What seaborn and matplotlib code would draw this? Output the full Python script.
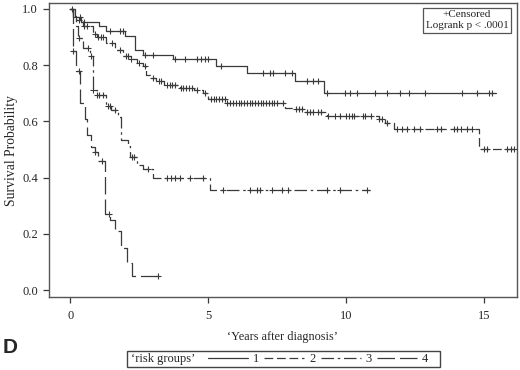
import numpy as np
import matplotlib
matplotlib.use("Agg")
import matplotlib.pyplot as plt
from matplotlib.lines import Line2D
from matplotlib.patches import Rectangle
import seaborn as sns

# ---- data (Kaplan-Meier steps + censor times) ----
t1 = [0, 0.15, 0.4, 1.05, 1.3, 1.97, 2.34, 2.64, 3.73, 5.3, 6.4, 8.16, 9.19, 15.43]
s1 = [1.0, 0.97, 0.955, 0.94, 0.922, 0.903, 0.855, 0.837, 0.82, 0.796, 0.772, 0.742, 0.701, 0.701]
c1 = [0.35, 0.5, 1.43, 1.8, 1.9, 2.7, 3.0, 3.8, 4.16, 4.6, 4.75, 4.9, 5.0, 5.45,
      7.0, 7.25, 7.36, 7.8, 8.05, 8.58, 8.82, 9.0, 9.31, 9.97, 10.16, 10.4, 11.07,
      11.49, 11.97, 12.28, 12.88, 14.22, 14.76, 15.19, 15.31]

t2 = [0, 0.1, 0.2, 0.46, 0.82, 0.95, 1.3, 1.61, 1.91, 2.2, 2.4, 2.64, 2.76, 2.88, 3.1,
      3.4, 3.97, 4.5, 4.8, 5.0, 5.67, 7.8, 8.16, 8.52, 9.31, 11.19, 11.4, 11.73, 14.83, 16.2]
s2 = [1.0, 0.975, 0.96, 0.938, 0.909, 0.9, 0.879, 0.855, 0.832, 0.82, 0.808, 0.796, 0.766,
      0.754, 0.742, 0.73, 0.72, 0.71, 0.70, 0.68, 0.665, 0.647, 0.643, 0.632, 0.62, 0.61,
      0.594, 0.573, 0.5, 0.5]
c2 = [0.3, 0.5, 0.6, 0.9, 1.0, 1.1, 1.2, 1.5, 1.8, 2.0, 2.1, 2.2, 2.5, 2.7, 3.0, 3.2, 3.3,
      3.5, 3.6, 3.7, 3.8, 4.0, 4.1, 4.2, 4.3, 4.4, 4.6, 4.9, 5.1, 5.2, 5.3, 5.4, 5.5, 5.6,
      5.7, 5.8, 5.9, 6.0, 6.1, 6.2, 6.3, 6.4, 6.5, 6.6, 6.7, 6.8, 6.9, 7.0, 7.1, 7.2, 7.3,
      7.4, 7.5, 7.7, 8.2, 8.3, 8.4, 8.6, 8.7, 8.8, 9.0, 9.1, 9.35, 9.6, 9.8, 10.0, 10.1,
      10.2, 10.3, 10.6, 10.7, 10.9, 11.2, 11.3, 11.5, 11.85, 12.04, 12.22, 12.46, 12.7,
      13.3, 13.44, 13.92, 14.04, 14.16, 14.4, 14.58, 15.0, 15.13, 15.85, 15.97, 16.08]

t3 = [0, 0.1, 0.2, 0.28, 0.46, 0.70, 0.82, 0.95, 1.31, 1.49, 1.73, 1.82, 2.1, 2.16, 2.41,
      2.63, 3.0, 5.07, 10.88]
s3 = [1.0, 0.97, 0.94, 0.897, 0.861, 0.832, 0.713, 0.695, 0.655, 0.641, 0.617, 0.535,
      0.511, 0.475, 0.446, 0.43, 0.397, 0.357, 0.357]
c3 = [0.33, 0.64, 0.76, 0.83, 0.95, 1.05, 1.18, 1.38, 1.45, 1.62, 2.22, 2.3, 2.8, 3.5,
      3.65, 3.8, 3.97, 4.34, 4.82, 5.55, 6.52, 6.76, 6.88, 7.31, 7.67, 7.91, 9.31, 9.79, 10.76]

t4 = [0, 0.1, 0.2, 0.34, 0.52, 0.6, 0.75, 0.89, 1.0, 1.25, 1.43, 1.62, 1.82, 2.04, 2.22, 3.2]
s4 = [1.0, 0.85, 0.78, 0.665, 0.61, 0.55, 0.51, 0.49, 0.46, 0.27, 0.25, 0.21, 0.15, 0.097, 0.05, 0.05]
c4 = [0.05, 0.1, 0.3, 0.89, 1.13, 1.39, 3.19]

groups = ["1", "2", "3", "4"]
x_ticks = [0, 5, 10, 15]
y_ticks = [0.0, 0.2, 0.4, 0.6, 0.8, 1.0]

# ---- style ----
sns.set_style("ticks")
plt.rcParams["font.family"] = ["Liberation Serif", "DejaVu Serif"]
INK = "#3a3a3a"
styles = ["-", (0, (7, 3)), (0, (10, 3, 2, 3)), (0, (14, 4))]

fig = plt.figure(figsize=(5.2, 3.7), dpi=100)
ax = fig.add_axes([0.094, 0.197, 0.900, 0.795])

for t, s, c, ls in zip([t1, t2, t3, t4], [s1, s2, s3, s4], [c1, c2, c3, c4], styles):
    sns.lineplot(x=t, y=s, drawstyle="steps-post", color=INK, linestyle=ls,
                 linewidth=0.9, estimator=None, ax=ax)
    t_arr, s_arr = np.array(t), np.array(s)
    idx = np.searchsorted(t_arr, c, side="right") - 1
    sns.scatterplot(x=c, y=s_arr[idx], marker="+", s=24, color=INK,
                    linewidth=0.8, ax=ax, zorder=3)

ax.set_xlim(-0.78, 16.2)
ax.set_ylim(-0.025, 1.021)
ax.set_xticks(x_ticks)
ax.set_xticklabels([str(v) for v in x_ticks], fontsize=9)
ax.set_yticks(y_ticks)
ax.set_yticklabels([f"{v:.1f}" for v in y_ticks], fontsize=9)
ax.tick_params(direction="out", length=4, width=0.9, color=INK, pad=5)
ax.tick_params(axis="y", pad=4)
for sp in ax.spines.values():
    sp.set_visible(True)
    sp.set_color("#555555")
    sp.set_linewidth(1.0)

ax.set_xlabel("\u2018Years after diagnosis\u2019", fontsize=8.8, labelpad=7)
ax.set_ylabel("Survival Probability", fontsize=9.8)
ax.yaxis.set_label_coords(-0.066, 0.5)

ax.text(0.982, 0.975, "+Censored\nLogrank p < .0001", transform=ax.transAxes,
        ha="right", va="top", fontsize=8, multialignment="center", linespacing=1.25,
        bbox=dict(boxstyle="square,pad=0.25", facecolor="white", edgecolor="#555555", linewidth=0.9))

# panel letter
fig.text(0.006, 0.06, "D", fontsize=15, fontweight="bold", family="Liberation Sans",
         ha="left", va="center")

# legend strip at the bottom
fig.add_artist(Rectangle((0.244, 0.008), 0.602, 0.043, transform=fig.transFigure,
                         facecolor="white", edgecolor="#444444", linewidth=1.0))
fig.text(0.252, 0.030, "\u2018risk groups\u2019", fontsize=9, ha="left", va="center")
handles = [Line2D([], [], color=INK, linestyle=ls, linewidth=0.9) for ls in styles]
fig.legend(handles, groups, ncol=4, frameon=False, loc="center left",
           bbox_to_anchor=(0.4, 0.030), fontsize=9, handlelength=3.2,
           handletextpad=0.4, columnspacing=0.4, borderpad=0, borderaxespad=0)

fig.savefig("out.png", dpi=100)
